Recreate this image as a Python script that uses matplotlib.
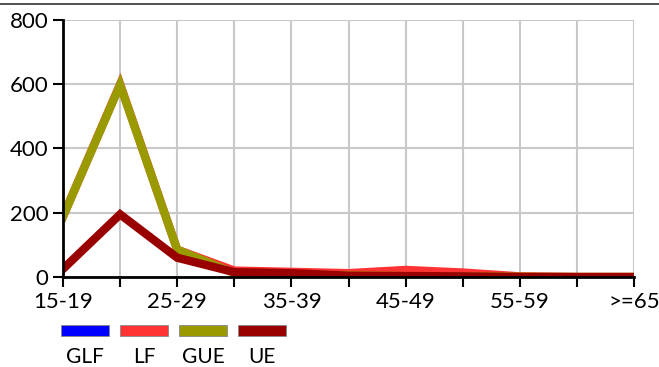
import matplotlib.pyplot as plt
from matplotlib.patches import Rectangle
from matplotlib.lines import Line2D

plt.rcParams['font.family'] = ['Lato', 'DejaVu Sans']

# age groups
categories = ["15-19", "20-24", "25-29", "30-34", "35-39", "40-44",
              "45-49", "50-54", "55-59", "60-64", ">=65"]
glf = [190, 622, 95, 25, 20, 18, 30, 18, 2, 0, 0]
lf = [188, 600, 85, 20, 16, 12, 22, 14, 2, 0, 0]
gue = [188, 598, 85, 12, 8, 5, 3, 2, 1, 0, 0]
ue = [25, 195, 60, 15, 12, 4, 3, 2, 0, 0, 0]

names = ["GLF", "LF", "GUE", "UE"]
colors = ["#0000ff", "#ff3333", "#999900", "#990000"]

fig = plt.figure(figsize=(6.59, 3.67), dpi=100)
ax = fig.add_axes([63 / 659, 90 / 367, 571 / 659, 257 / 367])

x = list(range(len(categories)))
ax.plot(x, glf, color=colors[0], lw=1.2, zorder=3)
ax.plot(x, lf, color=colors[1], lw=6, solid_joinstyle='miter', zorder=3)
ax.plot(x, gue, color=colors[2], lw=6, solid_joinstyle='miter', zorder=4)
ax.plot(x, ue, color=colors[3], lw=6, solid_joinstyle='miter', zorder=5)

ax.set_xlim(0, len(categories) - 1)
ax.set_ylim(0, 800)
ax.set_yticks([0, 200, 400, 600, 800])
ax.set_xticks(x)
ax.set_xticklabels([c if i % 2 == 0 else "" for i, c in enumerate(categories)])
ax.tick_params(axis='both', labelsize=16, length=7.5, width=1.5, color='black', pad=3)
ax.grid(True, color='#c8c8c8', lw=1.5)
ax.set_axisbelow(True)
for s in ['top', 'right']:
    ax.spines[s].set_visible(False)
for s in ['left', 'bottom']:
    ax.spines[s].set_linewidth(2)
    ax.spines[s].set_zorder(6)

# top rule
fig.add_artist(Line2D([0, 1], [1 - 4 / 367, 1 - 4 / 367], color='#333333', lw=1.2))

# legend below the axes: patch then label underneath
for i, (n, c) in enumerate(zip(names, colors)):
    cx = 85 + i * 59
    fig.add_artist(Rectangle(((cx - 24) / 659, 1 - 336 / 367), 48 / 659, 11 / 367,
                             facecolor=c, edgecolor='#888888', lw=0.6))
    fig.text(cx / 659, 1 - 357 / 367, n, ha='center', va='center', fontsize=15)

fig.savefig("out.png", dpi=100)
